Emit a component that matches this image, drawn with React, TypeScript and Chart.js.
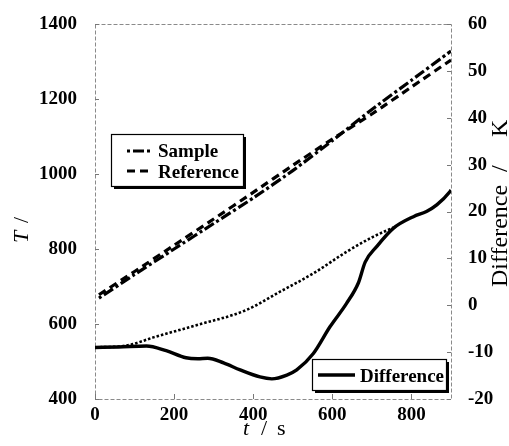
import React, { useEffect, useRef } from "react";
import { Chart, registerables } from "chart.js";

Chart.register(...registerables);

// ---- data ----
const tSR = [10, 100, 200, 300, 400, 500, 600, 700, 800, 900];
const sampleT = [669, 732, 800, 868, 936, 1009, 1089, 1172, 1250, 1328];
const referenceT = [678, 740, 810, 880, 951, 1023, 1093, 1160, 1232, 1304];

const tDiff = [0, 60, 130, 180, 230, 260, 285, 325, 367, 417, 447, 485, 510, 552, 594, 636, 666, 683, 712, 754, 805, 838, 864, 897, 900];
const diffK = [-9.0, -8.9, -8.7, -9.7, -11.2, -11.4, -11.3, -12.3, -13.8, -15.3, -15.7, -14.9, -13.8, -10.3, -4.6, 0.4, 4.8, 9.2, 12.5, 16.4, 18.9, 20.0, 21.4, 24.2, 24.6];

const tDot = [0, 80, 150, 250, 383, 468, 552, 636, 703, 755];
const dotK = [-9.0, -8.6, -6.8, -4.4, -1.0, 2.9, 6.8, 11.4, 14.6, 16.6];

const xTicks = [0, 200, 400, 600, 800];
const yLeftTicks = [400, 600, 800, 1000, 1200, 1400];
const yRightTicks = [-20, -10, 0, 10, 20, 30, 40, 50, 60];

const SERIF = "'Liberation Serif', 'DejaVu Serif', serif";

const pts = (xs: number[], ys: number[]) => xs.map((x, i) => ({ x, y: ys[i] }));

const decorPlugin = {
  id: "decor",
  beforeDatasetsDraw(chart: any) {
    const { ctx, chartArea: a, scales } = chart;
    ctx.save();
    ctx.strokeStyle = "#8a8a8a";
    ctx.lineWidth = 1;
    ctx.setLineDash([4, 2]);
    ctx.strokeRect(a.left + 0.5, a.top + 0.5, a.right - a.left, a.bottom - a.top);
    ctx.setLineDash([]);
    ctx.strokeStyle = "#777";
    xTicks.forEach((v) => {
      const px = Math.round(scales.x.getPixelForValue(v)) + 0.5;
      ctx.beginPath();
      ctx.moveTo(px, a.bottom);
      ctx.lineTo(px, a.bottom - 5);
      ctx.stroke();
    });
    yLeftTicks.forEach((v) => {
      const py = Math.round(scales.y.getPixelForValue(v)) + 0.5;
      ctx.beginPath();
      ctx.moveTo(a.left, py);
      ctx.lineTo(a.left + 4, py);
      ctx.stroke();
    });
    yRightTicks.forEach((v) => {
      const py = Math.round(scales.y1.getPixelForValue(v)) + 0.5;
      ctx.beginPath();
      ctx.moveTo(a.right, py);
      ctx.lineTo(a.right - 4, py);
      ctx.stroke();
    });
    ctx.restore();
  },
  afterDraw(chart: any) {
    const { ctx } = chart;
    const ds = chart.data.datasets;
    ctx.save();
    ctx.fillStyle = "#000";
    ctx.textBaseline = "alphabetic";
    ctx.textAlign = "left";

    ctx.save();
    ctx.translate(28, 243);
    ctx.rotate(-Math.PI / 2);
    ctx.font = `italic 22px ${SERIF}`;
    ctx.fillText("T", 0, 0);
    ctx.font = `22px ${SERIF}`;
    ctx.fillText("/", 20, 0);
    ctx.restore();

    ctx.save();
    ctx.translate(507, 287);
    ctx.rotate(-Math.PI / 2);
    ctx.font = `24px ${SERIF}`;
    ctx.fillText("Difference", 0, 0);
    ctx.fillText("/", 115, 0);
    ctx.fillText("K", 150, 0);
    ctx.restore();

    ctx.font = `italic 22px ${SERIF}`;
    ctx.fillText("t", 243, 435);
    ctx.font = `22px ${SERIF}`;
    ctx.fillText("/", 261, 435);
    ctx.fillText("s", 277, 435);

    const box = (x: number, y: number, w: number, h: number) => {
      ctx.fillStyle = "#000";
      ctx.fillRect(x + 3, y + 3, w, h);
      ctx.fillStyle = "#fff";
      ctx.fillRect(x, y, w, h);
      ctx.strokeStyle = "#000";
      ctx.lineWidth = 1.2;
      ctx.setLineDash([]);
      ctx.strokeRect(x + 0.5, y + 0.5, w, h);
    };
    const sampleLine = (d: any, x1: number, x2: number, y: number) => {
      ctx.strokeStyle = "#000";
      ctx.lineWidth = d.borderWidth;
      ctx.setLineDash(d.borderDash || []);
      ctx.beginPath();
      ctx.moveTo(x1, y);
      ctx.lineTo(x2, y);
      ctx.stroke();
      ctx.setLineDash([]);
    };

    box(111, 134, 132, 52);
    sampleLine(ds[0], 127, 153, 151);
    sampleLine(ds[1], 127, 153, 171);
    ctx.fillStyle = "#000";
    ctx.font = `bold 19px ${SERIF}`;
    ctx.fillText(ds[0].label, 158, 157);
    ctx.fillText(ds[1].label, 158, 178);

    box(312, 359, 134, 31);
    sampleLine(ds[2], 318, 355, 375);
    ctx.fillStyle = "#000";
    ctx.font = `bold 19px ${SERIF}`;
    ctx.fillText(ds[2].label, 360, 382);

    ctx.restore();
  },
};

export default function App() {
  const ref = useRef<HTMLCanvasElement>(null);
  useEffect(() => {
    if (!ref.current) return;
    const tickFont = { family: SERIF, size: 19, weight: "bold" as const };
    const plain = (v: any) => String(v);
    const chart = new Chart(ref.current, {
      type: "line",
      data: {
        datasets: [
          {
            label: "Sample",
            data: pts(tSR, sampleT),
            yAxisID: "y",
            borderColor: "#000",
            borderWidth: 3.2,
            borderDash: [3, 3, 11, 3],
            pointRadius: 0,
            tension: 0.2,
            fill: false,
          },
          {
            label: "Reference",
            data: pts(tSR, referenceT),
            yAxisID: "y",
            borderColor: "#000",
            borderWidth: 3.2,
            borderDash: [8, 5],
            pointRadius: 0,
            tension: 0.2,
            fill: false,
          },
          {
            label: "Difference",
            data: pts(tDiff, diffK),
            yAxisID: "y1",
            borderColor: "#000",
            borderWidth: 3.4,
            pointRadius: 0,
            cubicInterpolationMode: "monotone",
            fill: false,
          },
          {
            label: "baseline",
            data: pts(tDot, dotK),
            yAxisID: "y1",
            borderColor: "#000",
            borderWidth: 2.6,
            borderDash: [2.5, 2],
            pointRadius: 0,
            cubicInterpolationMode: "monotone",
            fill: false,
          },
        ],
      },
      options: {
        animation: false,
        responsive: true,
        maintainAspectRatio: false,
        layout: { padding: { top: 24, left: 0, right: 0, bottom: 0 } },
        plugins: { legend: { display: false }, tooltip: { enabled: false } },
        scales: {
          x: {
            type: "linear",
            min: 0,
            max: 900,
            grid: { display: false },
            border: { display: false },
            ticks: { stepSize: 200, includeBounds: false, font: tickFont, color: "#000", padding: -3, maxRotation: 0, callback: plain },
            afterBuildTicks: (s: any) => {
              s.ticks = xTicks.map((v) => ({ value: v }));
            },
            afterFit: (s: any) => {
              s.height = 47;
            },
          },
          y: {
            type: "linear",
            position: "left",
            min: 400,
            max: 1400,
            grid: { display: false },
            border: { display: false },
            ticks: { stepSize: 200, font: tickFont, color: "#000", padding: 10, callback: plain },
            afterBuildTicks: (s: any) => {
              s.ticks = yLeftTicks.map((v) => ({ value: v }));
            },
            afterFit: (s: any) => {
              s.width = 95;
            },
          },
          y1: {
            type: "linear",
            position: "right",
            min: -20,
            max: 60,
            grid: { display: false },
            border: { display: false },
            ticks: { stepSize: 10, font: tickFont, color: "#000", padding: 9, callback: plain },
            afterBuildTicks: (s: any) => {
              s.ticks = yRightTicks.map((v) => ({ value: v }));
            },
            afterFit: (s: any) => {
              s.width = 58;
            },
          },
        },
      },
      plugins: [decorPlugin],
    });
    return () => chart.destroy();
  }, []);
  return (
    <div style={{ position: "absolute", left: 0, top: 0, width: 509, height: 446, background: "#fff" }}>
      <canvas ref={ref} />
    </div>
  );
}
